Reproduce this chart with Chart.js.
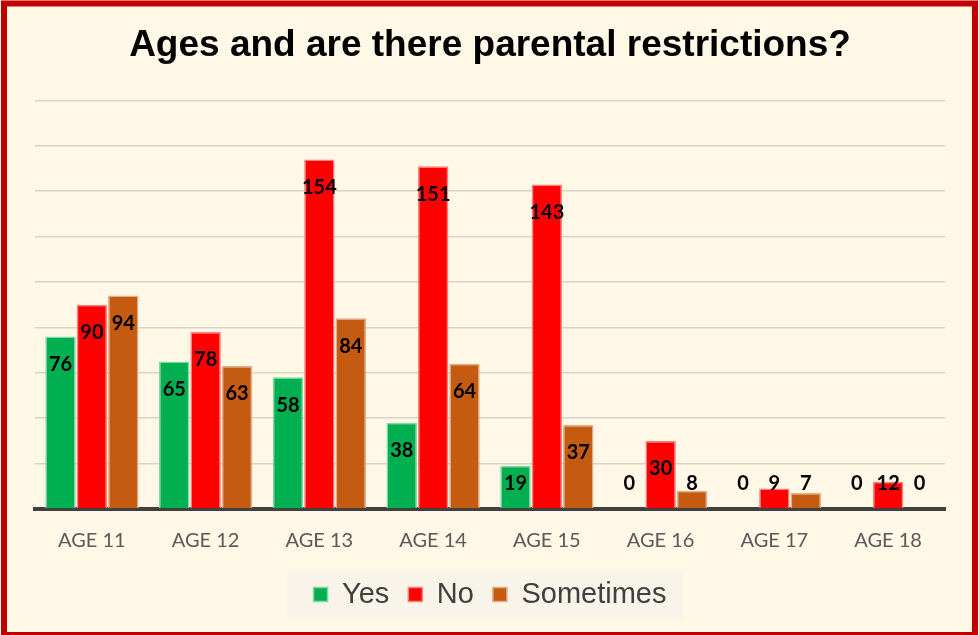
<!DOCTYPE html>
<html>
<head>
<meta charset="utf-8">
<script src="https://cdn.jsdelivr.net/npm/chart.js@4/dist/chart.umd.min.js"></script>
<style>
  body { margin: 0; background: #fff8e6; }
  canvas { display: block; }
</style>
</head>
<body>
<canvas id="agesChart" width="979" height="635"></canvas>
<script>
// Chart data
const ages = ["AGE 11", "AGE 12", "AGE 13", "AGE 14", "AGE 15", "AGE 16", "AGE 17", "AGE 18"];
const yesValues = [76, 65, 58, 38, 19, 0, 0, 0];
const noValues = [90, 78, 154, 151, 143, 30, 9, 12];
const sometimesValues = [94, 63, 84, 64, 37, 8, 7, 0];
const yTicks = [0, 20, 40, 60, 80, 100, 120, 140, 160, 180];

// Cream background, red frame and grey legend panel
const framePlugin = {
    id: "frame",
    beforeDraw(chart) {
        const ctx = chart.ctx;
        ctx.save();
        ctx.fillStyle = "#fff8e6";
        ctx.fillRect(0, 0, chart.width, chart.height);
        ctx.strokeStyle = "#c00000";
        ctx.lineWidth = 6;
        ctx.strokeRect(4, 3.5, chart.width - 8, chart.height - 3.5);

        const boxes = chart.legend.legendHitBoxes;
        if (boxes && boxes.length) {
            const first = boxes[0];
            const last = boxes[boxes.length - 1];
            const mid = first.top + first.height / 2;
            ctx.fillStyle = "#f8f4e9";
            ctx.fillRect(first.left - 26, mid - 24, last.left + last.width + 17 - (first.left - 26), 49);
        }
        ctx.restore();
    }
};

// Value labels inside the top of each bar
const valueLabels = {
    id: "valueLabels",
    afterDatasetsDraw(chart) {
        const ctx = chart.ctx;
        ctx.save();
        ctx.font = "bold 20px Lato";
        ctx.fillStyle = "#000000";
        ctx.textAlign = "center";
        ctx.textBaseline = "middle";
        chart.data.datasets.forEach((ds, i) => {
            const meta = chart.getDatasetMeta(i);
            meta.data.forEach((bar, j) => {
                const y = Math.min(bar.y + 28, bar.base - 25);
                ctx.fillText(String(ds.data[j]), bar.x, y);
            });
        });
        ctx.restore();
    }
};

new Chart(document.getElementById("agesChart"), {
    type: "bar",
    data: {
        labels: ages,
        datasets: [
            {
                label: "Yes",
                data: yesValues,
                backgroundColor: "#00b050",
                borderColor: "#80d8a8",
                borderWidth: 1.5
            },
            {
                label: "No",
                data: noValues,
                backgroundColor: "#ff0000",
                borderColor: "#ff8080",
                borderWidth: 1.5
            },
            {
                label: "Sometimes",
                data: sometimesValues,
                backgroundColor: "#c55a11",
                borderColor: "#e2ad88",
                borderWidth: 1.5
            }
        ]
    },
    options: {
        responsive: false,
        animation: false,
        categoryPercentage: 0.828,
        barPercentage: 0.97,
        layout: {
            padding: { top: 10, left: 35, right: 34, bottom: 16 }
        },
        plugins: {
            title: {
                display: true,
                text: "Ages and are there parental restrictions?",
                color: "#000000",
                font: { family: "Liberation Sans", size: 37, weight: "bold" },
                padding: { top: 14, bottom: 32 }
            },
            legend: {
                position: "bottom",
                labels: {
                    color: "#404040",
                    font: { family: "Liberation Sans", size: 29 },
                    boxWidth: 14,
                    boxHeight: 14,
                    padding: 19
                }
            },
            tooltip: { enabled: false }
        },
        scales: {
            x: {
                z: 1,
                grid: { display: false, drawTicks: false },
                border: { display: true, color: "#404040", width: 4 },
                ticks: {
                    color: "#595959",
                    font: { family: "Lato", size: 20 },
                    padding: 20
                },
                afterFit(scale) {
                    scale.height = 52;
                }
            },
            y: {
                min: 0,
                max: 180,
                afterBuildTicks(axis) {
                    axis.ticks = yTicks.map(v => ({ value: v }));
                },
                grid: { color: "#d8d3c7", lineWidth: 1.5, drawTicks: false },
                border: { display: false },
                ticks: { display: false }
            }
        }
    },
    plugins: [framePlugin, valueLabels]
});
</script>
</body>
</html>
